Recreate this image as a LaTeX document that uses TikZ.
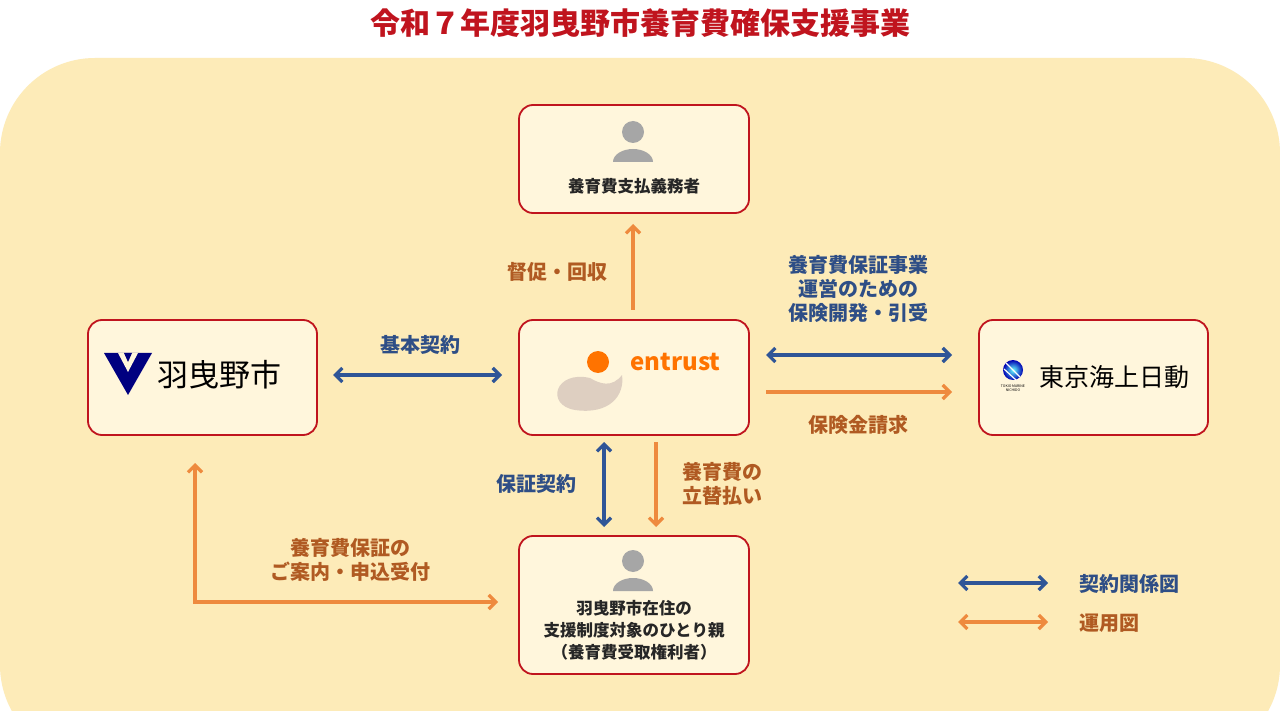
\documentclass[tikz,border=0pt]{standalone}
\usepackage{fontspec}
\setmainfont{Noto Sans CJK JP}
\usetikzlibrary{arrows.meta}
\definecolor{bgc}{HTML}{FDEBB8}
\definecolor{boxf}{HTML}{FFF6DC}
\definecolor{redc}{HTML}{C0141E}
\definecolor{bluec}{HTML}{2F5597}
\definecolor{orc}{HTML}{EE8A3E}
\definecolor{blt}{HTML}{2E4E86}
\definecolor{ort}{HTML}{B05A22}
\definecolor{grayc}{HTML}{A6A6A6}
\begin{document}
\begin{tikzpicture}[x=1pt,y=-1pt,
 box/.style={draw=redc,line width=1.8pt,fill=boxf,rounded corners=14pt},
 barr/.style={draw=bluec,line width=3.2pt,{Straight Barb[length=7pt,width=14pt]}-{Straight Barb[length=7pt,width=14pt]}},
 oarr/.style={draw=orc,line width=3.2pt,-{Straight Barb[length=7pt,width=14pt]}},
 oarr2/.style={draw=orc,line width=3.2pt,{Straight Barb[length=7pt,width=14pt]}-{Straight Barb[length=7pt,width=14pt]}},
 bl/.style={text=blt,font=\bfseries\fontsize{20}{24}\selectfont,align=center},
 ol/.style={text=ort,font=\bfseries\fontsize{20}{24}\selectfont,align=center},
 bt/.style={text=black!85,font=\bfseries\fontsize{16.5}{22}\selectfont,align=center}]
\useasboundingbox (0,0) rectangle (1280,711);
\fill[white] (0,0) rectangle (1280,711);
\fill[bgc,rounded corners=95pt] (0,58) rectangle (1280,760);
\node[text=redc,font=\bfseries\fontsize{30}{32}\selectfont] (title) at (640,23) {令和７年度羽曳野市養育費確保支援事業};
% boxes
\draw[box] (519,105) rectangle (749,213);
\draw[box] (88,320) rectangle (317,435);
\draw[box] (519,320) rectangle (749,435);
\draw[box] (979,320) rectangle (1208,435);
\draw[box] (519,536) rectangle (749,674);
% persons
\fill[grayc] (633,132) circle (11);
\fill[grayc] (613,162) arc (180:360:20 and 13) -- cycle;
\fill[grayc] (633,561) circle (11);
\fill[grayc] (613,591) arc (180:360:20 and 13) -- cycle;
\node[bt] (payer) at (634,186) {養育費支払義務者};
\node[bt] (parent) at (634,630) {羽曳野市在住の\\支援制度対象のひとり親\\（養育費受取権利者）};
% Habikino logo
\fill[blue!50!black] (104,353) -- (152,353) -- (128,395) -- cycle;
\fill[boxf] (118,353) -- (138,353) -- (128,372) -- cycle;
\fill[blue!50!black] (124,353) -- (132,353) -- (128,362) -- cycle;
\node[font=\fontsize{31}{34}\selectfont,anchor=west] (hab) at (154,375) {羽曳野市};
% entrust logo
\fill[black!25!brown!30] (590,378) .. controls (555,370) and (545,405) .. (575,410) .. controls (610,415) and (625,395) .. (622,375) .. controls (612,388) and (600,384) .. (590,378) -- cycle;
\fill[orange!90!red] (598,362) circle (11);
\node[text=orange!90!red,font=\bfseries\fontsize{24}{26}\selectfont,anchor=west] (ent) at (627,362) {entrust};
% Tokio Marine logo
\shade[inner color=cyan!60!white,outer color=blue!70!black] (1013,370) circle (10);
\draw[white,line width=1.2pt] (1006,363) -- (1020,377) (1004,369) -- (1016,380);
\node[font=\fontsize{3.5}{4}\selectfont,align=center,text=black] (tmn) at (1013,388) {TOKIO MARINE\\NICHIDO};
\node[font=\fontsize{25}{28}\selectfont,anchor=west] (tm) at (1036,377) {東京海上日動};
% arrows
\draw[barr] (333,375) -- (502,375); \node[bl] (k1) at (420,345) {基本契約};
\draw[oarr] (633,310) -- (633,224); \node[ol] (k2) at (557,272) {督促・回収};
\draw[barr] (766,355) -- (952,355); \node[bl] (k3) at (858,289) {養育費保証事業\\運営のための\\保険開発・引受};
\draw[oarr] (766,392) -- (952,392); \node[ol] (k4) at (858,425) {保険金請求};
\draw[barr] (604,442) -- (604,527); \node[bl] (k5) at (536,484) {保証契約};
\draw[oarr] (656,442) -- (656,527); \node[ol] (k6) at (722,484) {養育費の\\立替払い};
\draw[oarr2] (195,463) -- (195,602) -- (498,602); \node[ol] (k7) at (350,560) {養育費保証の\\ご案内・申込受付};
% legend
\draw[barr] (958,583) -- (1048,583); \node[bl,anchor=west] (lg1) at (1076,584) {契約関係図};
\draw[oarr2] (958,622) -- (1048,622); \node[ol,anchor=west] (lg2) at (1076,623) {運用図};
\end{tikzpicture}
\end{document}
